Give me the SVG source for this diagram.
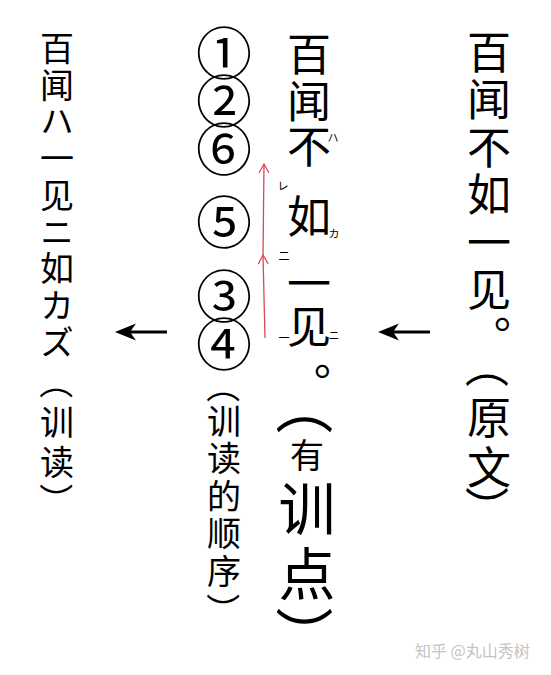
<svg xmlns="http://www.w3.org/2000/svg" width="551" height="675" viewBox="0 0 551 675">
<defs>
<style>
.v{font-family:"Noto Sans CJK SC","Noto Sans CJK JP",sans-serif;writing-mode:vertical-rl;fill:#000}
.p{font-family:"Noto Sans CJK SC","Noto Sans CJK JP",sans-serif;text-anchor:middle;dominant-baseline:central;fill:#000}
.num{font-family:"Noto Sans CJK SC",sans-serif;font-size:56px;writing-mode:vertical-rl;letter-spacing:-8px;fill:#000}
.kana{font-family:"Noto Sans CJK JP","Noto Sans CJK SC",sans-serif;font-size:11px;text-anchor:middle}
.blk{stroke:#000;stroke-width:3;fill:none}
.red{stroke:#d8485a;stroke-width:1.3;fill:none}
</style>
<marker id="redhead" viewBox="0 0 12 12" refX="11" refY="6" markerWidth="12" markerHeight="12" markerUnits="userSpaceOnUse" orient="auto">
<path d="M2,1 L11,6 L2,11" fill="none" stroke="#d8485a" stroke-width="1.2"/>
</marker>
</defs>
<rect width="551" height="675" fill="#fff"/>

<g id="original">
<text class="v" x="489" y="30" font-size="44" letter-spacing="3.5">百闻不如一见。</text>
<text class="p" x="489" y="366" font-size="44" transform="rotate(90 489 366)">（</text>
<text class="v" x="489" y="395" font-size="44" letter-spacing="6">原文</text>
<text class="p" x="489" y="508" font-size="44" transform="rotate(90 489 508)">）</text>
</g>

<g id="annotated">
<text class="v" x="309" font-size="44"><tspan y="32">百</tspan><tspan y="79">闻</tspan><tspan y="124">不</tspan><tspan y="194">如</tspan><tspan y="261">一</tspan><tspan y="304">见</tspan><tspan y="362">。</tspan></text>
<text class="kana" x="333" y="142">ハ</text>
<text class="kana" x="283" y="190">レ</text>
<text class="kana" x="334" y="238">カ</text>
<text class="kana" x="284" y="260">二</text>
<text class="kana" x="284" y="342">一</text>
<text class="kana" x="334" y="340">ニ</text>
<text class="p" x="307" y="406" font-size="58" transform="rotate(90 307 406)">（</text>
<text class="v" x="307"><tspan y="438" font-size="34">有</tspan><tspan y="480" font-size="57">训</tspan><tspan y="545" font-size="57">点</tspan></text>
<text class="p" x="307" y="635" font-size="58" transform="rotate(90 307 635)">）</text>
</g>

<g id="order">
<text class="num" x="224" y="25">①②⑥</text>
<text class="num" x="224" y="194">⑤</text>
<text class="num" x="224" y="268" letter-spacing="-10">③④</text>
<text class="p" x="224" y="386" font-size="34" transform="rotate(90 224 386)">（</text>
<text class="v" x="224" y="404" font-size="34" letter-spacing="3.5">训读的顺序</text>
<text class="p" x="224" y="610" font-size="34" transform="rotate(90 224 610)">）</text>
</g>

<g id="kundoku">
<text class="v" x="57" y="31" font-size="34" letter-spacing="2.75">百闻ハ一见ニ如カズ</text>
<text class="p" x="57" y="382" font-size="34" transform="rotate(90 57 382)">（</text>
<text class="v" x="57" y="405" font-size="34" letter-spacing="6">训读</text>
<text class="p" x="57" y="500" font-size="34" transform="rotate(90 57 500)">）</text>
</g>

<g id="connectors">
<line class="blk" x1="430" y1="332" x2="392" y2="332"/>
<path d="M378,332 L399,323.5 L393,332 L399,340.5 Z" fill="#000"/>
<line class="blk" x1="167" y1="332" x2="129" y2="332"/>
<path d="M115,332 L136,323.5 L130,332 L136,340.5 Z" fill="#000"/>
<line class="red" x1="265" y1="338" x2="263" y2="255" marker-end="url(#redhead)"/>
<line class="red" x1="263" y1="256" x2="264" y2="164" marker-end="url(#redhead)"/>
</g>

<text x="415" y="657" font-family="Noto Sans CJK SC, sans-serif" font-size="16" fill="#c4c4c4">知乎 @丸山秀树</text>
</svg>
